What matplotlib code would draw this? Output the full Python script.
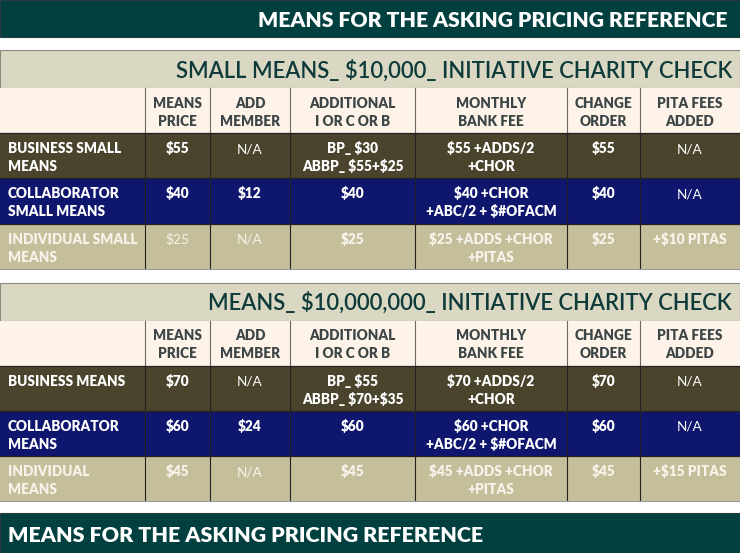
# coding=utf-8
# Means pricing reference table, drawn with rectangles and text on a pixel-scaled axes.
import matplotlib as mpl
mpl.rcParams['font.family'] = ['Lato', 'DejaVu Sans']
mpl.rcParams['text.parse_math'] = False
import matplotlib.pyplot as plt
from matplotlib.patches import Rectangle

# ---- data ----
banner_title = 'MEANS FOR THE ASKING PRICING REFERENCE'

col_headers = [
    ('MEANS', 'PRICE'),
    ('ADD', 'MEMBER'),
    ('ADDITIONAL', 'I OR C OR B'),
    ('MONTHLY', 'BANK FEE'),
    ('CHANGE', 'ORDER'),
    ('PITA FEES', 'ADDED'),
]

small_title = 'SMALL MEANS_ $10,000_ INITIATIVE CHARITY CHECK'
small_labels = [('BUSINESS SMALL', 'MEANS'), ('COLLABORATOR', 'SMALL MEANS'), ('INDIVIDUAL SMALL', 'MEANS')]
small_price = ['$55', '$40', '$25']
small_member = ['N/A', '$12', 'N/A']
small_additional = [('BP_ $30', 'ABBP_ $55+$25'), ('$40',), ('$25',)]
small_bank = [('$55 +ADDS/2', '+CHOR'), ('$40 +CHOR', '+ABC/2 + $#OFACM'), ('$25 +ADDS +CHOR', '+PITAS')]
small_change = ['$55', '$40', '$25']
small_pita = ['N/A', 'N/A', '+$10 PITAS']

big_title = 'MEANS_ $10,000,000_ INITIATIVE CHARITY CHECK'
big_labels = [('BUSINESS MEANS',), ('COLLABORATOR', 'MEANS'), ('INDIVIDUAL', 'MEANS')]
big_price = ['$70', '$60', '$45']
big_member = ['N/A', '$24', 'N/A']
big_additional = [('BP_ $55', 'ABBP_ $70+$35'), ('$60',), ('$45',)]
big_bank = [('$70 +ADDS/2', '+CHOR'), ('$60 +CHOR', '+ABC/2 + $#OFACM'), ('$45 +ADDS +CHOR', '+PITAS')]
big_change = ['$70', '$60', '$45']
big_pita = ['N/A', 'N/A', '+$15 PITAS']

# cells drawn in regular weight (row, col)
small_light = {(0, 1), (0, 5), (1, 5), (2, 0), (2, 1)}
big_light = {(0, 1), (0, 5), (1, 5), (2, 1)}

# ---- style ----
W, H = 740, 553
col_edges = [0, 145, 210, 290, 415, 567, 640, 740]
c_banner = '#024040'
c_title_bg = '#DAD8C3'
c_title_fg = '#0E3A3A'
c_head_bg = '#FEF3E8'
c_head_fg = '#3C4646'
row_bg = ['#4A442D', '#0F166E', '#C4BE9B']
row_fg = ['#FFFFFF', '#FFFFFF', '#F6F4EA']
BOLD = 800

fig = plt.figure(figsize=(W / 100, H / 100), dpi=100)
ax = fig.add_axes([0, 0, 1, 1])
ax.set_xlim(0, W)
ax.set_ylim(H, 0)
ax.axis('off')


def box(x0, y0, x1, y1, fc, ec='none', lw=0):
    ax.add_patch(Rectangle((x0, y0), x1 - x0, y1 - y0, facecolor=fc, edgecolor=ec, linewidth=lw))


def lines_at(x, top, lines, color, weight, ha='center', size=9.8):
    for k, s in enumerate(lines):
        ax.text(x, top + 20 + 18 * k, s, color=color, fontsize=size, fontweight=weight,
                ha=ha, va='baseline')


def section(top, title, labels, cols, light):
    # title row
    box(0, top, W, top + 38, c_title_bg, '#8A8A80', 0.8)
    ax.text(732, top + 27.5, title, color=c_title_fg, fontsize=15.8, fontweight=600,
            ha='right', va='baseline')
    # header row
    htop = top + 38
    box(0, htop, W, htop + 45, c_head_bg)
    for j, hdr in enumerate(col_headers):
        xc = (col_edges[j + 1] + col_edges[j + 2]) / 2
        lines_at(xc, htop - 0.5, hdr, c_head_fg, BOLD)
    for xe in col_edges[1:-1]:
        ax.plot([xe, xe], [htop, htop + 45], color='#6A6A6A', lw=0.8)
    # data rows
    rtop = htop + 45
    for i in range(3):
        y0 = rtop + 45.3 * i
        box(0, y0, W, y0 + 45.3, row_bg[i])
        lines_at(8, y0, labels[i], row_fg[i], BOLD, ha='left')
        for j, col in enumerate(cols):
            val = col[i]
            val = (val,) if isinstance(val, str) else val
            xc = (col_edges[j + 1] + col_edges[j + 2]) / 2
            w = 'normal' if (i, j) in light else BOLD
            lines_at(xc, y0, val, row_fg[i], w)
        ax.plot([0, W], [y0, y0], color='#222222', lw=0.9)
    bottom = rtop + 45.3 * 3
    for xe in col_edges[1:-1]:
        ax.plot([xe, xe], [rtop, bottom], color='#222222', lw=0.8)
    ax.plot([0, W], [bottom, bottom], color='#9A9A9A', lw=0.8)


# top banner
box(0, 0, W, 37, c_banner, '#2A3A3A', 0.8)
ax.text(728, 27, banner_title, color='white', fontsize=15.2, fontweight=BOLD, ha='right', va='baseline')

section(50, small_title, small_labels,
        [small_price, small_member, small_additional, small_bank, small_change, small_pita], small_light)
section(282.5, big_title, big_labels,
        [big_price, big_member, big_additional, big_bank, big_change, big_pita], big_light)

# bottom banner
box(0, 513, W, H, c_banner, '#2A3A3A', 0.8)
ax.text(8, 541.5, banner_title, color='white', fontsize=15.4, fontweight=BOLD, ha='left', va='baseline')

fig.savefig('out.png', dpi=100)
